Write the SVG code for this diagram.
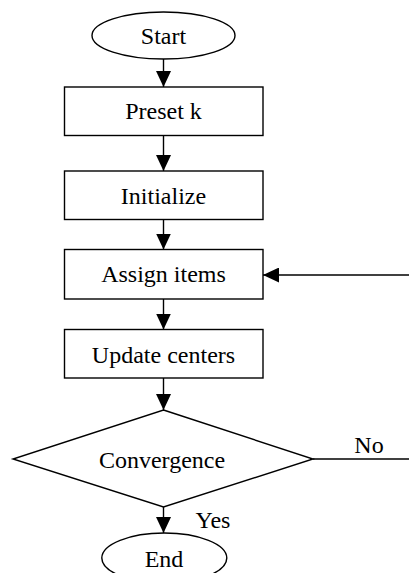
<svg xmlns="http://www.w3.org/2000/svg" width="409" height="573" viewBox="0 0 409 573">
<style>
.s{fill:#fff;stroke:#000;stroke-width:1.4}
.t{font-family:"Liberation Serif","Times New Roman",serif;font-size:24px;fill:#000;text-anchor:middle}
.c{fill:none;stroke:#000;stroke-width:1.4}
</style>
<defs>
<marker id="ah" viewBox="0 0 16 15" refX="16" refY="7.5" markerWidth="16" markerHeight="15" markerUnits="userSpaceOnUse" orient="auto">
<path d="M0,0 L16,7.5 L0,15 Z" fill="#000"/>
</marker>
</defs>
<rect width="409" height="573" fill="#fff"/>
<g id="connectors">
<line class="c" x1="163.5" y1="59" x2="163.5" y2="87" marker-end="url(#ah)"/>
<line class="c" x1="163.5" y1="135.5" x2="163.5" y2="171" marker-end="url(#ah)"/>
<line class="c" x1="163.5" y1="219.5" x2="163.5" y2="249.5" marker-end="url(#ah)"/>
<line class="c" x1="163.5" y1="299" x2="163.5" y2="329.5" marker-end="url(#ah)"/>
<line class="c" x1="163.5" y1="378" x2="163.5" y2="410" marker-end="url(#ah)"/>
<line class="c" x1="163.5" y1="507" x2="163.5" y2="533" marker-end="url(#ah)"/>
<line class="c" x1="313" y1="459" x2="409" y2="459"/>
<line class="c" x1="409" y1="275" x2="263" y2="275" marker-end="url(#ah)"/>
<text class="t" x="369" y="453">No</text>
<text class="t" x="213" y="528">Yes</text>
</g>
<g id="start">
<ellipse class="s" cx="163.5" cy="35.5" rx="71.5" ry="23.5"/>
<text class="t" x="163.5" y="44">Start</text>
</g>
<g id="preset">
<rect class="s" x="64.5" y="87" width="198.5" height="48.5"/>
<text class="t" x="163.5" y="119">Preset k</text>
</g>
<g id="initialize">
<rect class="s" x="64.5" y="171" width="198.5" height="48.5"/>
<text class="t" x="163.5" y="204">Initialize</text>
</g>
<g id="assign">
<rect class="s" x="64.5" y="249.5" width="198.5" height="49.5"/>
<text class="t" x="163.5" y="282">Assign items</text>
</g>
<g id="update">
<rect class="s" x="64.5" y="329.5" width="198.5" height="48.5"/>
<text class="t" x="163.5" y="362.5">Update centers</text>
</g>
<g id="convergence">
<polygon class="s" points="163.5,410 313,459 163.5,507 13,459"/>
<text class="t" x="162" y="468">Convergence</text>
</g>
<g id="end">
<ellipse class="s" cx="164.3" cy="558" rx="62.5" ry="25"/>
<text class="t" x="164" y="567">End</text>
</g>
</svg>
